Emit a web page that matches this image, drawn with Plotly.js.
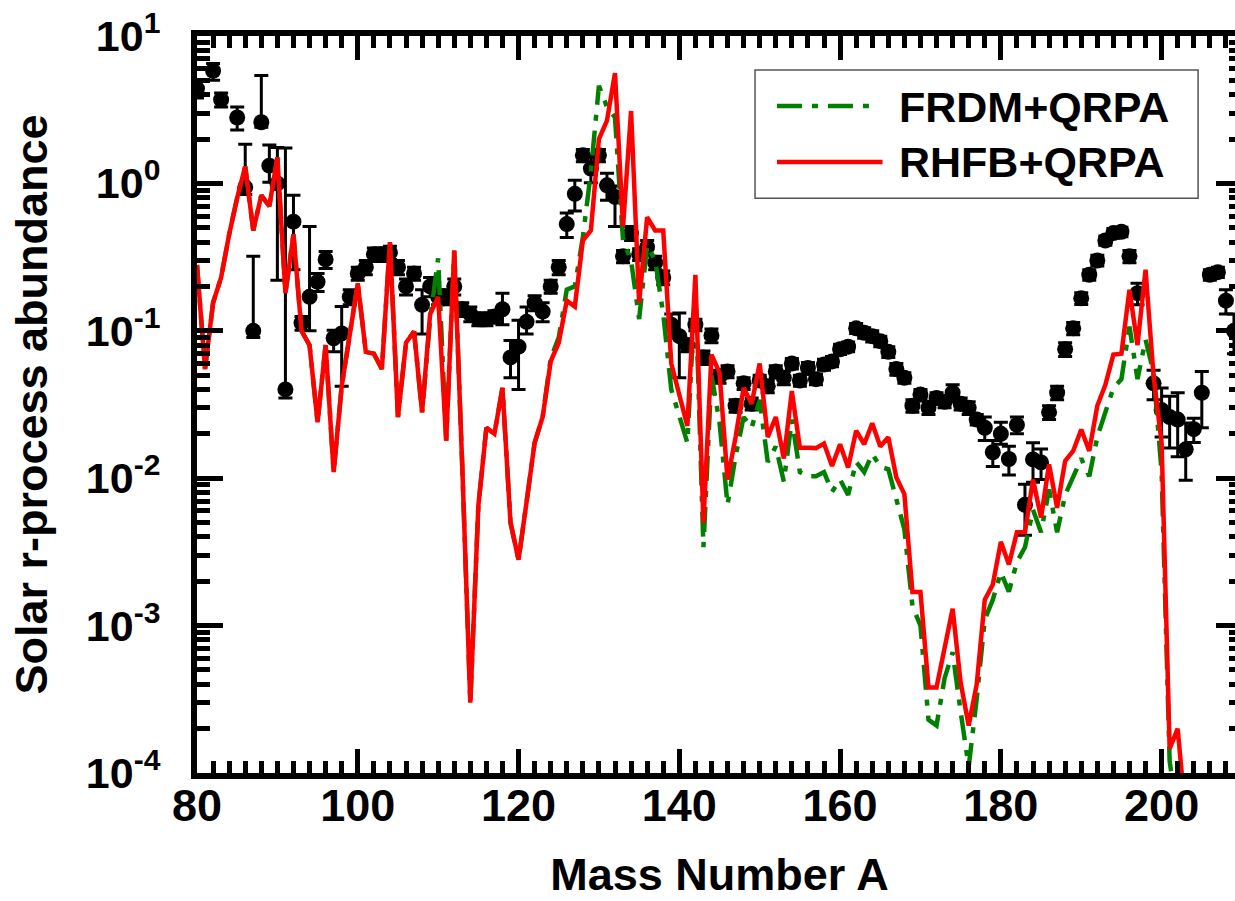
<!DOCTYPE html>
<html>
<head>
<meta charset="utf-8">
<script src="https://cdn.plot.ly/plotly-3.0.1.min.js"></script>
<style>
html,body{margin:0;padding:0;overflow:hidden;background:#fff;}
#chart{width:1244px;height:901px;}
</style>
</head>
<body>
<div id="chart"></div>
<script>
// ---- Data ----
const massModel = [80,81,82,83,84,85,86,87,88,89,90,91,92,93,94,95,96,97,98,99,100,101,102,103,104,105,106,107,108,109,110,111,112,113,114,115,116,117,118,119,120,121,122,123,124,125,126,127,128,129,130,131,132,133,134,135,136,137,138,139,140,141,142,143,144,145,146,147,148,149,150,151,152,153,154,155,156,157,158,159,160,161,162,163,164,165,166,167,168,169,170,171,172,173,174,175,176,177,178,179,180,181,182,183,184,185,186,187,188,189,190,191,192,193,194,195,196,197,198,199,200,201,202,203];

const rhfb = [0.28,0.055,0.155,0.23,0.45,0.8,1.3,0.48,0.83,0.70,1.5,0.18,0.45,0.10,0.08,0.024,0.08,0.011,0.042,0.093,0.21,0.072,0.07,0.055,0.40,0.026,0.083,0.099,0.028,0.13,0.17,0.018,0.35,0.012,0.0003,0.0065,0.022,0.020,0.041,0.005,0.0028,0.0069,0.0174,0.026,0.062,0.083,0.16,0.146,0.41,0.48,2.0,2.67,5.6,0.51,3.1,0.155,0.59,0.48,0.48,0.060,0.038,0.0226,0.24,0.005,0.069,0.052,0.0098,0.019,0.041,0.032,0.060,0.019,0.026,0.0136,0.039,0.0161,0.0161,0.016,0.0172,0.0121,0.017,0.0118,0.021,0.017,0.0236,0.0164,0.019,0.0101,0.0078,0.00169,0.00169,0.00038,0.00038,0.0007,0.0013,0.00041,0.00021,0.0004,0.0015,0.0019,0.0037,0.0026,0.0043,0.0043,0.0098,0.0054,0.0124,0.0063,0.0131,0.0153,0.0214,0.0153,0.031,0.043,0.069,0.070,0.19,0.08,0.26,0.049,0.0175,0.000146,0.0002,0.00005];

const frdm = [0.28,0.055,0.155,0.23,0.45,0.8,1.3,0.48,0.83,0.70,1.5,0.18,0.45,0.10,0.08,0.024,0.08,0.011,0.042,0.093,0.21,0.072,0.07,0.055,0.40,0.026,0.083,0.099,0.028,0.12,0.31,0.018,0.35,0.012,0.0003,0.0065,0.022,0.020,0.041,0.005,0.0028,0.0069,0.0174,0.026,0.065,0.09,0.19,0.2,0.43,1.2,4.6,3.3,2.8,0.41,0.3,0.12,0.38,0.3,0.13,0.04,0.026,0.0174,0.2,0.0034,0.05,0.024,0.0066,0.0141,0.026,0.022,0.034,0.0129,0.0164,0.0095,0.025,0.011,0.0103,0.0103,0.011,0.0081,0.0098,0.0077,0.0129,0.011,0.0146,0.012,0.0115,0.0072,0.0045,0.00136,0.001,0.00023,0.00021,0.00044,0.00066,0.00026,0.00011,0.00032,0.0011,0.0015,0.0023,0.0017,0.0027,0.0034,0.0061,0.0043,0.0084,0.0043,0.0077,0.0102,0.0136,0.0103,0.019,0.028,0.041,0.047,0.107,0.047,0.087,0.052,0.011,0.00012,0.00005,0.00003];

const massSolar = [80,82,83,85,86,87,88,89,90,91,92,93,94,95,96,97,98,99,100,101,102,103,104,105,106,107,108,109,110,111,112,113,114,115,116,117,118,119,120,121,122,123,124,125,126,127,128,129,130,131,132,133,134,135,136,137,138,139,140,141,142,143,144,145,146,147,148,149,150,151,152,153,154,155,156,157,158,159,160,161,162,163,164,165,166,167,168,169,170,171,172,173,174,175,176,177,178,179,180,181,182,183,184,185,186,187,188,189,190,191,192,193,194,195,196,197,199,200,201,202,203,204,205,206,207,208,209];

const solar = [4.4,5.8,3.7,2.8,0.94,0.10,2.6,1.32,1.0,0.04,0.55,0.113,0.17,0.215,0.305,0.089,0.096,0.17,0.245,0.27,0.33,0.33,0.34,0.27,0.20,0.245,0.15,0.20,0.17,0.17,0.2,0.14,0.13,0.12,0.12,0.125,0.14,0.066,0.078,0.115,0.155,0.135,0.2,0.27,0.53,0.85,1.55,1.26,1.55,0.97,0.81,0.32,0.46,0.33,0.37,0.29,0.23,0.11,0.092,0.08,0.11,0.066,0.093,0.049,0.053,0.031,0.044,0.032,0.046,0.042,0.053,0.048,0.060,0.046,0.056,0.047,0.059,0.062,0.075,0.078,0.104,0.097,0.092,0.085,0.072,0.055,0.048,0.031,0.037,0.030,0.035,0.033,0.038,0.032,0.030,0.025,0.022,0.015,0.02,0.0135,0.023,0.0066,0.0134,0.0128,0.028,0.038,0.075,0.104,0.166,0.24,0.30,0.41,0.46,0.47,0.32,0.18,0.044,0.029,0.026,0.025,0.0157,0.0215,0.038,0.24,0.25,0.16,0.1];

const solarErrUp = [0.6,0.7,0.4,0.5,0.9,0.22,2.8,0.5,0.75,1.7,0.28,0.012,0.34,0.03,0.04,0.012,0.05,0.02,0.025,0.03,0.035,0.035,0.035,0.03,0.025,0.025,0.04,0.03,0.02,0.02,0.025,0.015,0.015,0.012,0.012,0.012,0.04,0.02,0.04,0.03,0.018,0.02,0.02,0.03,0.1,0.2,0.15,0.3,0.15,0.2,0.15,0.03,0.05,0.03,0.04,0.03,0.025,0.02,0.04,0.008,0.01,0.007,0.01,0.005,0.005,0.003,0.004,0.003,0.004,0.004,0.005,0.005,0.005,0.004,0.005,0.004,0.005,0.005,0.006,0.006,0.008,0.008,0.008,0.007,0.006,0.005,0.004,0.003,0.003,0.003,0.003,0.003,0.005,0.003,0.003,0.002,0.004,0.003,0.004,0.003,0.003,0.0025,0.004,0.003,0.003,0.004,0.008,0.01,0.015,0.02,0.025,0.03,0.035,0.035,0.03,0.03,0.01,0.012,0.01,0.013,0.008,0.004,0.015,0.02,0.02,0.03,0.03];

const solarErrDown = [0.6,0.8,0.4,0.5,0.1,0.01,0.2,0.3,0.78,0.005,0.29,0.012,0.07,0.03,0.04,0.017,0.054,0.02,0.025,0.03,0.035,0.035,0.035,0.03,0.025,0.025,0.055,0.03,0.02,0.02,0.025,0.015,0.015,0.012,0.012,0.012,0.03,0.018,0.038,0.02,0.018,0.02,0.02,0.03,0.1,0.2,0.15,0.25,0.15,0.2,0.3,0.03,0.05,0.03,0.04,0.03,0.025,0.02,0.044,0.008,0.01,0.007,0.01,0.005,0.005,0.003,0.004,0.003,0.004,0.004,0.005,0.005,0.005,0.004,0.005,0.004,0.005,0.005,0.006,0.006,0.008,0.008,0.008,0.007,0.006,0.005,0.004,0.003,0.003,0.003,0.003,0.003,0.005,0.003,0.003,0.002,0.004,0.003,0.003,0.003,0.003,0.0025,0.004,0.003,0.003,0.004,0.008,0.01,0.015,0.02,0.025,0.03,0.035,0.035,0.03,0.03,0.01,0.01,0.01,0.011,0.006,0.004,0.016,0.02,0.02,0.03,0.03];

const seriesNames = ['FRDM+QRPA', 'RHFB+QRPA'];
const yTickVals = [1e-4, 1e-3, 1e-2, 1e-1, 1, 10];
const yTickText = ['10<sup>-4</sup>','10<sup>-3</sup>','10<sup>-2</sup>','10<sup>-1</sup>','10<sup>0</sup>','10<sup>1</sup>'];

// minor log ticks 2..9 per decade
const yMinor = [];
for (let e = -4; e < 1; e++) { for (let m = 2; m <= 9; m++) yMinor.push(m * Math.pow(10, e)); }

const FONT = '"Liberation Sans", Arial, Helvetica, sans-serif';

const traces = [
  {
    x: massSolar, y: solar, type: 'scatter', mode: 'markers', name: 'Solar',
    marker: {color: '#000', size: 16},
    error_y: {type: 'data', symmetric: false, array: solarErrUp, arrayminus: solarErrDown,
              color: '#000', thickness: 3, width: 7}
  },
  {
    x: massModel, y: frdm, type: 'scatter', mode: 'lines', name: seriesNames[0],
    line: {color: '#008000', width: 4.5, dash: '25px,10px,6px,10px'}
  },
  {
    x: massModel, y: rhfb, type: 'scatter', mode: 'lines', name: seriesNames[1],
    line: {color: '#ff0000', width: 4.5}
  }
];

const layout = {
  width: 1244, height: 901,
  margin: {l: 197, r: 2, t: 36, b: 128},
  paper_bgcolor: '#fff', plot_bgcolor: '#fff',
  font: {family: FONT, color: '#000', size: 40, weight: 700},
  showlegend: false,
  xaxis: {
    range: [80, 210], tickmode: 'linear', tick0: 80, dtick: 20,
    ticks: 'inside', ticklen: 24, tickwidth: 5, tickcolor: '#000', mirror: 'ticks',
    showline: true, linewidth: 6, linecolor: '#000', showgrid: false, zeroline: false,
    minor: {dtick: 2, tick0: 80, ticks: 'inside', ticklen: 12, tickwidth: 5, tickcolor: '#000', showgrid: false},
    tickfont: {family: FONT, size: 45, color: '#000', weight: 700}, ticklabelstandoff: -12,
    title: {text: 'Mass Number A', font: {family: FONT, size: 45, color: '#000', weight: 700}, standoff: 30}
  },
  yaxis: {
    type: 'log', range: [-4, 1], tickmode: 'array', tickvals: yTickVals, ticktext: yTickText,
    ticks: 'inside', ticklen: 26, tickwidth: 5, tickcolor: '#000', mirror: 'ticks',
    showline: true, linewidth: 6, linecolor: '#000', showgrid: false, zeroline: false,
    minor: {tickmode: 'array', tickvals: yMinor, ticks: 'inside', ticklen: 13, tickwidth: 5, tickcolor: '#000', showgrid: false},
    tickfont: {family: FONT, size: 43, color: '#000', weight: 700}, ticklabelstandoff: 22,
    title: {text: 'Solar r-process abundance', font: {family: FONT, size: 45, color: '#000', weight: 700}, standoff: 26}
  },
  shapes: [
    {type: 'rect', xref: 'paper', yref: 'paper', x0: 0.534, x1: 0.958, y0: 0.780, y1: 0.954,
     line: {color: '#555', width: 1.5}, fillcolor: '#fff', layer: 'above'},
    {type: 'line', xref: 'paper', yref: 'paper', x0: 0.555, x1: 0.643, y0: 0.905, y1: 0.905,
     line: {color: '#008000', width: 4.5, dash: '25px,10px,6px,10px'}, layer: 'above'},
    {type: 'line', xref: 'paper', yref: 'paper', x0: 0.555, x1: 0.656, y0: 0.829, y1: 0.829,
     line: {color: '#ff0000', width: 4.5}, layer: 'above'}
  ],
  annotations: [
    {xref: 'paper', yref: 'paper', x: 0.6696, y: 0.904, xanchor: 'left', yanchor: 'middle', showarrow: false,
     text: seriesNames[0], font: {family: FONT, size: 43, color: '#000', weight: 700}},
    {xref: 'paper', yref: 'paper', x: 0.6696, y: 0.829, xanchor: 'left', yanchor: 'middle', showarrow: false,
     text: seriesNames[1], font: {family: FONT, size: 43, color: '#000', weight: 700}}
  ]
};

Plotly.newPlot('chart', traces, layout, {displayModeBar: false, staticPlot: true});
</script>
</body>
</html>
